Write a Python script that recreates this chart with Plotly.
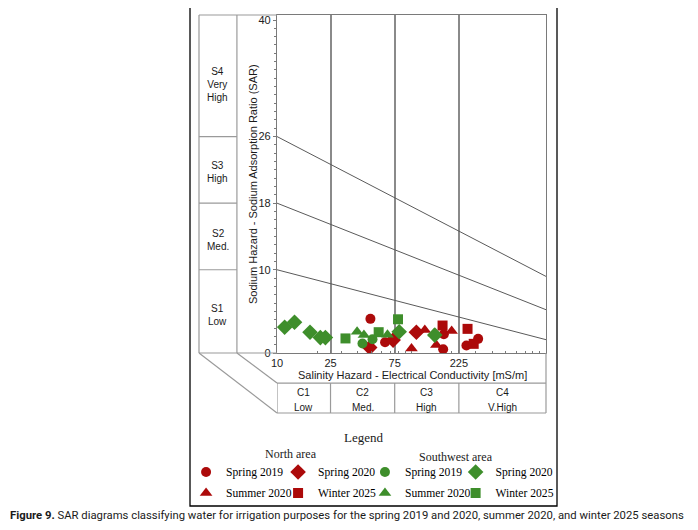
import numpy as np
import plotly.graph_objects as go

# EC in mS/m (log x), SAR (linear y)
north_spring2019_ec = [49.5, 63.6, 174, 172, 256, 313]
north_spring2019_sar = [4.1, 1.3, 2.25, 0.45, 0.9, 1.7]
north_spring2020_ec = [48.9, 73, 108.7]
north_spring2020_sar = [0.65, 1.55, 2.5]
north_summer2020_ec = [100, 125.6, 153, 198.8]
north_summer2020_sar = [0.55, 2.75, 0.95, 2.65]
north_winter2025_ec = [170.2, 261, 290]
north_winter2025_sar = [3.3, 2.9, 1.1]

sw_spring2019_ec = [43.2, 51.3]
sw_spring2019_sar = [1.15, 1.65]
sw_spring2020_ec = [11.4, 13.5, 17.6, 21.0, 22.9, 81, 149]
sw_spring2020_sar = [3.1, 3.7, 2.5, 1.85, 1.85, 2.55, 2.15]
sw_summer2020_ec = [39.4, 44.3, 66.3, 147]
sw_summer2020_sar = [2.55, 2.15, 2.2, 2.35]
sw_winter2025_ec = [32.3, 57, 79.4]
sw_winter2025_sar = [1.75, 2.5, 4.05]

# class limits and boundary lines of the diagram
salinity_bounds = [10, 25, 75, 225, 1000]
salinity_classes = ['C1', 'C2', 'C3', 'C4']
salinity_names = ['Low', 'Med.', 'High', 'V.High']
sodium_ticks = [0, 10, 18, 26, 40]
sodium_labels = ['S1<br>Low', 'S2<br>Med.', 'S3<br>High', 'S4<br>Very<br>High']
sodium_label_pos = [4.6, 13.6, 21.7, 32.3]
boundary_ec = [10, 1000]
boundary_start = [10, 18, 26]
boundary_end = [1.6, 5.2, 9.2]

RED = '#AC0A0A'
GREEN = '#3E8E2B'
GRID = '#8A8A8A'
FRAME = '#9A9A9A'
SANS = 'Liberation Sans, Arial, sans-serif'
SERIF = 'Liberation Serif, Times New Roman, serif'

fig = go.Figure()

# boundary lines between sodium classes
for s0, s1 in zip(boundary_start, boundary_end):
    fig.add_trace(go.Scatter(x=boundary_ec, y=[s0, s1], mode='lines',
                             line=dict(color='#5A5A5A', width=1),
                             showlegend=False, hoverinfo='skip'))

# one legend per legend column, two rows each
series = [
    ('Spring 2019', north_spring2019_ec, north_spring2019_sar, 'circle', RED, 10, 'legend'),
    ('Summer 2020', north_summer2020_ec, north_summer2020_sar, 'triangle-up', RED, 11, 'legend'),
    ('Spring 2020', north_spring2020_ec, north_spring2020_sar, 'diamond', RED, 12, 'legend2'),
    ('Winter 2025', north_winter2025_ec, north_winter2025_sar, 'square', RED, 10, 'legend2'),
    ('Spring 2019', sw_spring2019_ec, sw_spring2019_sar, 'circle', GREEN, 10, 'legend3'),
    ('Summer 2020', sw_summer2020_ec, sw_summer2020_sar, 'triangle-up', GREEN, 11, 'legend3'),
    ('Spring 2020', sw_spring2020_ec, sw_spring2020_sar, 'diamond', GREEN, 12, 'legend4'),
    ('Winter 2025', sw_winter2025_ec, sw_winter2025_sar, 'square', GREEN, 10, 'legend4'),
]
for i, (name, ec, sar, sym, col, size, leg) in enumerate(series):
    fig.add_trace(go.Scatter(x=ec, y=sar, mode='markers', name=name, legend=leg,
                             legendgroup='g%d' % i,
                             marker=dict(symbol=sym, color=col, size=size,
                                         line=dict(width=0))))

# frame geometry in paper units
s_left, s_right = -0.29, -0.149
c_top, c_bottom = -0.089, -0.1775

shapes = []
def line(x0, y0, x1, y1, xref='paper', yref='paper', color=FRAME, width=1.2):
    shapes.append(dict(type='line', x0=x0, y0=y0, x1=x1, y1=y1, xref=xref, yref=yref,
                       line=dict(color=color, width=width)))

# sodium class column
line(s_left, 1, 0, 1)
line(s_left, 0, 0, 0)
line(s_left, 0, s_left, 1)
line(s_right, 0, s_right, 1)
for t in sodium_ticks[1:-1]:
    line(s_left, t, s_right, t, yref='y')
# perspective edges
line(s_left, 0, 0, c_bottom)
line(s_right, 0, 0, c_top)
# salinity class row
line(0, c_top, 1, c_top)
line(0, c_bottom, 1, c_bottom)
line(1, 0, 1, c_bottom)
for b in salinity_bounds[:-1]:
    line(b, c_bottom, b, c_top, xref='x')
# outer black border
shapes.append(dict(type='rect', xref='paper', yref='paper', x0=-0.3234, x1=1.0409,
                   y0=-0.4527, y1=1.0296, line=dict(color='black', width=1.3)))

def note(x, y, text, size, family, xref='paper', yref='paper', **kw):
    d = dict(x=x, y=y, xref=xref, yref=yref, text=text, showarrow=False,
             xanchor='center', yanchor='middle',
             font=dict(size=size, family=family, color='#1A1A1A'))
    d.update(kw)
    return d

annotations = []
for lab, pos in zip(sodium_labels, sodium_label_pos):
    annotations.append(note((s_left + s_right) / 2, pos, lab, 10, SANS, yref='y'))
centers = np.sqrt(np.array(salinity_bounds[:-1]) * np.array(salinity_bounds[1:]))
for c, cl, nm in zip(centers, salinity_classes, salinity_names):
    annotations.append(note(np.log10(c), -0.1175, cl, 10, SANS, xref='x'))
    annotations.append(note(np.log10(c), -0.1607, nm, 10, SANS, xref='x'))

annotations += [
    note(0.503, -0.066, 'Salinity Hazard - Electrical Conductivity [mS/m]', 11, SANS),
    note(-0.089, 0.5, 'Sodium Hazard - Sodium Adsorption Ratio (SAR)', 11, SANS, textangle=-90),
    note(0.32, -0.249, 'Legend', 13, SERIF),
    note(0.052, -0.300, 'North area', 12, SERIF),
    note(0.665, -0.308, 'Southwest area', 12, SERIF),
    note(-1.0, -0.482,
         '<b>Figure 9.</b> SAR diagrams classifying water for irrigation purposes for the spring 2019 and 2020, summer 2020, and winter 2025 seasons',
         11.3, 'Roboto, sans-serif', xanchor='left'),
]

leg_style = dict(orientation='v', xanchor='left', yanchor='middle', y=-0.383,
                 tracegroupgap=2, font=dict(size=11.6, family=SERIF, color='black'),
                 bgcolor='rgba(0,0,0,0)', itemclick=False)

fig.update_layout(
    width=690, height=522,
    margin=dict(l=269, r=152, t=7, b=177, autoexpand=False),
    paper_bgcolor='white', plot_bgcolor='white',
    showlegend=True,
    legend=dict(x=-0.338, **leg_style),
    legend2=dict(x=0.004, **leg_style),
    legend3=dict(x=0.327, **leg_style),
    legend4=dict(x=0.664, **leg_style),
    shapes=shapes,
    annotations=annotations,
    xaxis=dict(type='log', range=[1, 3], tickvals=salinity_bounds[:-1],
               ticktext=[str(v) for v in salinity_bounds[:-1]],
               showgrid=True, gridcolor=GRID, gridwidth=1.5,
               showline=True, linecolor='#7A7A7A', linewidth=1.2, mirror=True,
               ticks='inside', ticklen=3, tickcolor='#7A7A7A',
               minor=dict(ticks='inside', ticklen=2, dtick='D1', tickcolor='#7A7A7A', showgrid=False),
               tickfont=dict(size=11, family=SANS, color='#222'), zeroline=False),
    yaxis=dict(range=[0, 40.6], tickvals=sodium_ticks, showgrid=False,
               showline=True, linecolor='#7A7A7A', linewidth=1.2, mirror=True,
               ticks='outside', ticklen=3, tickcolor='#7A7A7A',
               minor=dict(ticks='outside', ticklen=2, dtick=1, tickcolor='#7A7A7A'),
               tickfont=dict(size=11, family=SANS, color='#222'), zeroline=False),
    yaxis2=dict(range=[0, 40.6], overlaying='y', side='right', showticklabels=False,
                showgrid=False, ticks='inside', ticklen=2, tickcolor='#7A7A7A', dtick=1,
                zeroline=False),
)

fig.write_html("out.html")
